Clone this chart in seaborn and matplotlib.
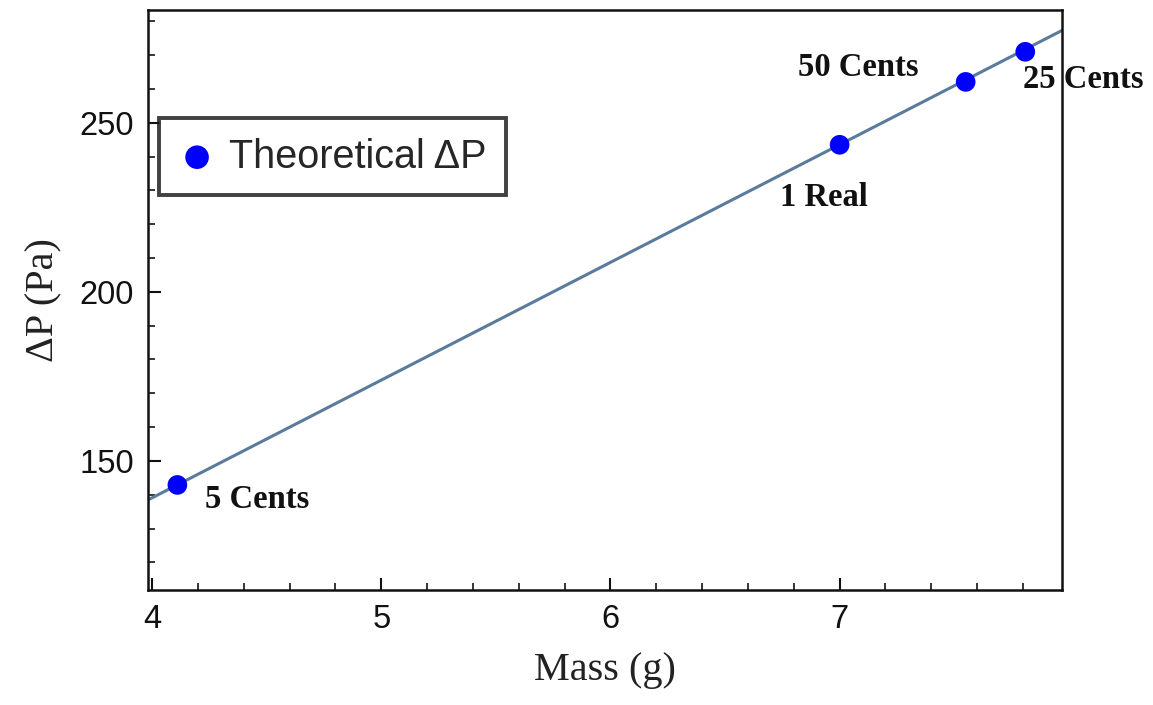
import matplotlib
matplotlib.use("Agg")
import matplotlib.pyplot as plt
import seaborn as sns
import pandas as pd
from matplotlib.ticker import MultipleLocator

# Data
mass = [4.11, 7.00, 7.55, 7.81]
dp = [142.9, 243.5, 262.1, 271.0]
coin_labels = ["5 Cents", "1 Real", "50 Cents", "25 Cents"]
label_x = [4.23, 6.74, 6.82, 7.80]
label_y = [138.5, 227.8, 266.3, 262.7]
fit_x = [3.98, 7.97]
fit_y = [138.4, 277.3]
x_ticks = [4, 5, 6, 7]
y_ticks = [150, 200, 250]

sns.set_theme(style="ticks")
plt.rcParams['font.family'] = ['Liberation Sans', 'DejaVu Sans']

fig = plt.figure(figsize=(11.53, 7.05), dpi=100)
ax = fig.add_axes([0.128, 0.163, 0.793, 0.823])

pts = pd.DataFrame({"Mass": mass, "dP": dp})
fit = pd.DataFrame({"Mass": fit_x, "dP": fit_y})

sns.lineplot(data=fit, x="Mass", y="dP", ax=ax, color="#5a7b9c", lw=2.2, zorder=2)
sns.scatterplot(data=pts, x="Mass", y="dP", ax=ax, color="#0000ff", s=200,
                edgecolor="none", zorder=3, label="Theoretical ΔP")

for tx, ty, lab in zip(label_x, label_y, coin_labels):
    ax.text(tx, ty, lab, fontsize=23.5, fontweight="bold", family=["Liberation Serif", "DejaVu Serif"],
            va="center", ha="left", clip_on=False, zorder=5, color="#111111")

ax.set_xlim(3.98, 7.97)
ax.set_ylim(111.8, 283.4)
ax.set_xticks(x_ticks)
ax.set_yticks(y_ticks)
ax.xaxis.set_minor_locator(MultipleLocator(0.2))
ax.yaxis.set_minor_locator(MultipleLocator(10))
ax.tick_params(axis="both", which="major", direction="in", length=9, width=1.5,
               labelsize=23.5, colors="#111111", pad=10)
ax.tick_params(axis="both", which="minor", direction="in", length=5, width=1.3)
ax.tick_params(top=False, right=False, which="both")

for sp in ax.spines.values():
    sp.set_visible(True)
    sp.set_linewidth(1.8)
    sp.set_color("#111111")

ax.set_xlabel("Mass (g)", fontsize=29, family=["Liberation Serif", "DejaVu Serif"], labelpad=12, color="#222222")
ax.set_ylabel("ΔP (Pa)", fontsize=29, family=["Liberation Serif", "DejaVu Serif"], labelpad=12, color="#222222")

leg = ax.legend(loc="upper left", bbox_to_anchor=(0.013, 0.814), fontsize=28.5, frameon=True,
                fancybox=False, edgecolor="#111111", handletextpad=0.35, borderpad=0.5,
                borderaxespad=0, markerscale=1.2, handlelength=0.9)
leg.get_frame().set_linewidth(2.8)

fig.savefig("out.png", dpi=100)
